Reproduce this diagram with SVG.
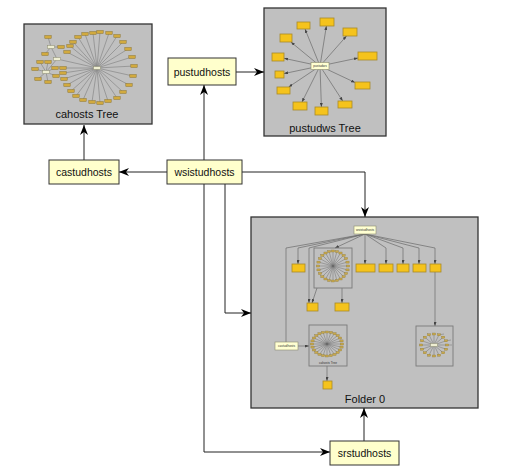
<svg xmlns="http://www.w3.org/2000/svg" xmlns:xlink="http://www.w3.org/1999/xlink" width="506" height="474" viewBox="0 0 506 474">
<style>
.bg{fill:#ffffff}
.box{fill:#ffffcc;stroke:#333333;stroke-width:1}
.cont{fill:#c0c0c0;stroke:#333333;stroke-width:1.3}
.inner{fill:none;stroke:#7a7a7a;stroke-width:0.9}
.lbl{font-family:"Liberation Sans",Arial,sans-serif;font-size:10.5px;fill:#111111;text-anchor:middle}
.tl{font-family:"Liberation Sans",Arial,sans-serif;font-size:11px;fill:#111111;text-anchor:middle}
.tiny{font-family:"Liberation Sans",Arial,sans-serif;font-size:3.2px;fill:#333333;text-anchor:middle}
.conn{fill:none;stroke:#222222;stroke-width:1}
.thin{fill:none;stroke:#6a6a6a;stroke-width:0.7}
.spoke{fill:none;stroke:#666666;stroke-width:0.45}
.gold{fill:#f5c31c;stroke:#a88a2a;stroke-width:0.8}
.pale{fill:#ffffd2;stroke:#8a8a70;stroke-width:0.6}
.tn{fill:#d2aa3e;stroke:#8c7636;stroke-width:0.5}
.sn{fill:#c8a84a;stroke:#8c7a40;stroke-width:0.35}
.th{fill:#eeeed2;stroke:#8a8a70;stroke-width:0.5}
</style>
<defs>
<marker id="arr" markerUnits="userSpaceOnUse" markerWidth="10" markerHeight="8" refX="10" refY="4" orient="auto">
<path d="M0,0 L10,4 L0,8 L3,4 Z" fill="#000000"/>
</marker>
<marker id="sm" markerUnits="userSpaceOnUse" markerWidth="4" markerHeight="3" refX="4" refY="1.5" orient="auto">
<path d="M0,0 L4,1.5 L0,3 Z" fill="#444444"/>
</marker>
<rect id="t" x="-3.2" y="-1.5" width="6.4" height="3" class="tn"/>
<rect id="s" x="-1.6" y="-1" width="3.2" height="2" class="sn"/>
<rect id="h" x="-3.5" y="-1.5" width="7" height="3" class="th"/>
</defs>
<rect class="bg" x="0" y="0" width="506" height="474"/>

<g id="cahosts-tree">
<rect class="cont" x="24" y="24" width="128" height="100"/>
<path class="spoke" d="M97 68 L73 42 M97 68 L78 37 M97 68 L85 34 M97 68 L93 33 M97 68 L100 32 M97 68 L109 33 M97 68 L117 36 M97 68 L123 42 M97 68 L128 49 M97 68 L132 57 M97 68 L134 66 M97 68 L133 76 M97 68 L129 85 M97 68 L123 92 M97 68 L117 98 M97 68 L108 101 M97 68 L100 103 M97 68 L92 102 M97 68 L83 100 M97 68 L76 96 M97 68 L71 91 M97 68 L67 85 M97 68 L64 79 M97 68 L63 73 M97 68 L63 68 M97 68 L67 52 M97 68 L70 46 M97 68 L57 59 M57 59 L51 47 M57 59 L46 72 M51 47 L48 37 M51 47 L61 47 M51 47 L45 54 M46 72 L40 62 M46 72 L48 62 M46 72 L35 69 M46 72 L55 68 M46 72 L38 79 M46 72 L48 82 M46 72 L56 76"/>
<use xlink:href="#t" x="73" y="42"/><use xlink:href="#t" x="78" y="37"/><use xlink:href="#t" x="85" y="34"/><use xlink:href="#t" x="93" y="33"/><use xlink:href="#t" x="100" y="32"/><use xlink:href="#t" x="109" y="33"/><use xlink:href="#t" x="117" y="36"/><use xlink:href="#t" x="123" y="42"/><use xlink:href="#t" x="128" y="49"/><use xlink:href="#t" x="132" y="57"/><use xlink:href="#t" x="134" y="66"/><use xlink:href="#t" x="133" y="76"/><use xlink:href="#t" x="129" y="85"/><use xlink:href="#t" x="123" y="92"/><use xlink:href="#t" x="117" y="98"/><use xlink:href="#t" x="108" y="101"/><use xlink:href="#t" x="100" y="103"/><use xlink:href="#t" x="92" y="102"/><use xlink:href="#t" x="83" y="100"/><use xlink:href="#t" x="76" y="96"/><use xlink:href="#t" x="71" y="91"/><use xlink:href="#t" x="67" y="85"/><use xlink:href="#t" x="64" y="79"/><use xlink:href="#t" x="63" y="73"/><use xlink:href="#t" x="63" y="68"/><use xlink:href="#t" x="67" y="52"/><use xlink:href="#t" x="70" y="46"/>
<use xlink:href="#t" x="48" y="37"/><use xlink:href="#t" x="61" y="47"/><use xlink:href="#t" x="45" y="54"/><use xlink:href="#t" x="40" y="62"/><use xlink:href="#t" x="48" y="62"/><use xlink:href="#t" x="35" y="69"/><use xlink:href="#t" x="55" y="68"/><use xlink:href="#t" x="38" y="79"/><use xlink:href="#t" x="48" y="82"/><use xlink:href="#t" x="56" y="76"/>
<use xlink:href="#h" x="97" y="68"/><use xlink:href="#h" x="57" y="59"/><use xlink:href="#h" x="51" y="47"/><use xlink:href="#h" x="46" y="72"/>
<text class="tl" x="87" y="118">cahosts Tree</text>
</g>

<g id="pustudws-tree">
<rect class="cont" x="264" y="8" width="122" height="128"/>
<path class="thin" marker-end="url(#sm)" d="M320 66 L305 29"/>
<path class="thin" marker-end="url(#sm)" d="M320 66 L326.4 26"/>
<path class="thin" marker-end="url(#sm)" d="M320 66 L346.5 36"/>
<path class="thin" marker-end="url(#sm)" d="M320 66 L358 58"/>
<path class="thin" marker-end="url(#sm)" d="M320 66 L355 82.5"/>
<path class="thin" marker-end="url(#sm)" d="M320 66 L342.7 101"/>
<path class="thin" marker-end="url(#sm)" d="M320 66 L321.4 107"/>
<path class="thin" marker-end="url(#sm)" d="M320 66 L302 102"/>
<path class="thin" marker-end="url(#sm)" d="M320 66 L288.7 87"/>
<path class="thin" marker-end="url(#sm)" d="M320 66 L284 73.6"/>
<path class="thin" marker-end="url(#sm)" d="M320 66 L284 58.3"/>
<path class="thin" marker-end="url(#sm)" d="M320 66 L290.9 42"/>
<rect class="gold" x="297" y="22" width="13" height="7"/>
<rect class="gold" x="320" y="18" width="14" height="8"/>
<rect class="gold" x="343" y="28" width="14" height="8"/>
<rect class="gold" x="358" y="52" width="19" height="8"/>
<rect class="gold" x="355" y="82" width="15" height="7"/>
<rect class="gold" x="338" y="101" width="14" height="7"/>
<rect class="gold" x="315" y="107" width="13" height="8"/>
<rect class="gold" x="293" y="102" width="14" height="8"/>
<rect class="gold" x="277" y="87" width="13" height="7"/>
<rect class="gold" x="275" y="71" width="9" height="7"/>
<rect class="gold" x="272" y="53" width="12" height="8"/>
<rect class="gold" x="280" y="34" width="12" height="8"/>
<rect class="pale" x="311" y="62.5" width="18" height="7"/>
<text class="tiny" x="320" y="67.2">pustudws</text>
<text class="tl" x="325" y="132">pustudws Tree</text>
</g>

<g id="folder-0">
<rect class="cont" x="251" y="217" width="227" height="191"/>
<path class="thin" d="M365 234 L286 248 V342"/>
<path class="thin" marker-end="url(#sm)" d="M365 234 L298 248 V264"/>
<path class="thin" marker-end="url(#sm)" d="M365 234 L309 248 V303"/>
<path class="thin" marker-end="url(#sm)" d="M365 234 L335 248"/>
<path class="thin" marker-end="url(#sm)" d="M365 234 V264"/>
<path class="thin" marker-end="url(#sm)" d="M365 234 L386 248 V264"/>
<path class="thin" marker-end="url(#sm)" d="M365 234 L403 248 V264"/>
<path class="thin" marker-end="url(#sm)" d="M365 234 L419 248 V264"/>
<path class="thin" marker-end="url(#sm)" d="M365 234 L435 248 V264"/>
<path class="thin" marker-end="url(#sm)" d="M435 272 V326"/>
<path class="thin" marker-end="url(#sm)" d="M317 288 L312 303"/>
<path class="thin" marker-end="url(#sm)" d="M342 288 V303"/>
<path class="thin" marker-end="url(#sm)" d="M298 346 H309"/>
<path class="thin" marker-end="url(#sm)" d="M327 366 V381"/>

<rect class="pale" x="354" y="226" width="22" height="8"/>
<text class="tiny" x="365" y="231.2">wsistudhosts</text>
<rect class="gold" x="292" y="264" width="13" height="8"/>
<rect class="gold" x="356" y="264" width="19" height="8"/>
<rect class="gold" x="379" y="264" width="14" height="8"/>
<rect class="gold" x="397" y="264" width="12" height="8"/>
<rect class="gold" x="413" y="264" width="13" height="8"/>
<rect class="gold" x="430" y="264" width="11" height="8"/>
<rect class="gold" x="307" y="303" width="11" height="8"/>
<rect class="gold" x="335" y="303" width="14" height="8"/>
<rect class="gold" x="323" y="381" width="9" height="8"/>
<rect class="pale" x="275" y="342" width="23" height="8"/>
<text class="tiny" x="286.5" y="347.2">castudhosts</text>

<rect class="inner" x="314" y="248" width="38" height="40"/>
<path class="spoke" d="M333 266 L348 266 M333 266 L347.5 269.9 M333 266 L346 273.5 M333 266 L343.6 276.6 M333 266 L340.5 279 M333 266 L336.9 280.5 M333 266 L333 281 M333 266 L329.1 280.5 M333 266 L325.5 279 M333 266 L322.4 276.6 M333 266 L320 273.5 M333 266 L318.5 269.9 M333 266 L318 266 M333 266 L318.5 262.1 M333 266 L320 258.5 M333 266 L322.4 255.4 M333 266 L325.5 253 M333 266 L329.1 251.5 M333 266 L333 251 M333 266 L336.9 251.5 M333 266 L340.5 253 M333 266 L343.6 255.4 M333 266 L346 258.5 M333 266 L347.5 262.1"/>
<use xlink:href="#s" x="348" y="266"/><use xlink:href="#s" x="347.5" y="269.9"/><use xlink:href="#s" x="346" y="273.5"/><use xlink:href="#s" x="343.6" y="276.6"/><use xlink:href="#s" x="340.5" y="279"/><use xlink:href="#s" x="336.9" y="280.5"/><use xlink:href="#s" x="333" y="281"/><use xlink:href="#s" x="329.1" y="280.5"/><use xlink:href="#s" x="325.5" y="279"/><use xlink:href="#s" x="322.4" y="276.6"/><use xlink:href="#s" x="320" y="273.5"/><use xlink:href="#s" x="318.5" y="269.9"/><use xlink:href="#s" x="318" y="266"/><use xlink:href="#s" x="318.5" y="262.1"/><use xlink:href="#s" x="320" y="258.5"/><use xlink:href="#s" x="322.4" y="255.4"/><use xlink:href="#s" x="325.5" y="253"/><use xlink:href="#s" x="329.1" y="251.5"/><use xlink:href="#s" x="333" y="251"/><use xlink:href="#s" x="336.9" y="251.5"/><use xlink:href="#s" x="340.5" y="253"/><use xlink:href="#s" x="343.6" y="255.4"/><use xlink:href="#s" x="346" y="258.5"/><use xlink:href="#s" x="347.5" y="262.1"/>

<rect class="inner" x="309" y="325" width="38" height="41"/>
<path class="spoke" d="M327 344 L342 344 M327 344 L341.5 347.1 M327 344 L340 350 M327 344 L337.6 352.5 M327 344 L334.5 354.4 M327 344 L330.9 355.6 M327 344 L327 356 M327 344 L323.1 355.6 M327 344 L319.5 354.4 M327 344 L316.4 352.5 M327 344 L314 350 M327 344 L312.5 347.1 M327 344 L312 344 M327 344 L312.5 340.9 M327 344 L314 338 M327 344 L316.4 335.5 M327 344 L319.5 333.6 M327 344 L323.1 332.4 M327 344 L327 332 M327 344 L330.9 332.4 M327 344 L334.5 333.6 M327 344 L337.6 335.5 M327 344 L340 338 M327 344 L341.5 340.9"/>
<use xlink:href="#s" x="342" y="344"/><use xlink:href="#s" x="341.5" y="347.1"/><use xlink:href="#s" x="340" y="350"/><use xlink:href="#s" x="337.6" y="352.5"/><use xlink:href="#s" x="334.5" y="354.4"/><use xlink:href="#s" x="330.9" y="355.6"/><use xlink:href="#s" x="327" y="356"/><use xlink:href="#s" x="323.1" y="355.6"/><use xlink:href="#s" x="319.5" y="354.4"/><use xlink:href="#s" x="316.4" y="352.5"/><use xlink:href="#s" x="314" y="350"/><use xlink:href="#s" x="312.5" y="347.1"/><use xlink:href="#s" x="312" y="344"/><use xlink:href="#s" x="312.5" y="340.9"/><use xlink:href="#s" x="314" y="338"/><use xlink:href="#s" x="316.4" y="335.5"/><use xlink:href="#s" x="319.5" y="333.6"/><use xlink:href="#s" x="323.1" y="332.4"/><use xlink:href="#s" x="327" y="332"/><use xlink:href="#s" x="330.9" y="332.4"/><use xlink:href="#s" x="334.5" y="333.6"/><use xlink:href="#s" x="337.6" y="335.5"/><use xlink:href="#s" x="340" y="338"/><use xlink:href="#s" x="341.5" y="340.9"/>
<text class="tiny" x="328" y="364">cahosts Tree</text>

<rect class="inner" x="416" y="326" width="37" height="40"/>
<path class="spoke" d="M434 345 L447 345 M434 345 L446 349.2 M434 345 L443.2 352.8 M434 345 L439 355.2 M434 345 L434 356 M434 345 L429 355.2 M434 345 L424.8 352.8 M434 345 L422 349.2 M434 345 L421 345 M434 345 L422 340.8 M434 345 L424.8 337.2 M434 345 L429 334.8 M434 345 L434 334 M434 345 L439 334.8 M434 345 L443.2 337.2 M434 345 L446 340.8 M447 345 L452 345 M446 340.8 L451 340 M439 334.8 L444 334"/>
<use xlink:href="#s" x="447" y="345"/><use xlink:href="#s" x="446" y="349.2"/><use xlink:href="#s" x="443.2" y="352.8"/><use xlink:href="#s" x="439" y="355.2"/><use xlink:href="#s" x="434" y="356"/><use xlink:href="#s" x="429" y="355.2"/><use xlink:href="#s" x="424.8" y="352.8"/><use xlink:href="#s" x="422" y="349.2"/><use xlink:href="#s" x="421" y="345"/><use xlink:href="#s" x="422" y="340.8"/><use xlink:href="#s" x="424.8" y="337.2"/><use xlink:href="#s" x="429" y="334.8"/><use xlink:href="#s" x="434" y="334"/><use xlink:href="#s" x="439" y="334.8"/><use xlink:href="#s" x="443.2" y="337.2"/><use xlink:href="#s" x="446" y="340.8"/>
<use xlink:href="#h" x="434" y="345"/>
<text class="tl" x="365" y="403">Folder 0</text>
</g>

<g id="connectors">
<path class="conn" marker-end="url(#arr)" d="M84 160 V125"/>
<path class="conn" marker-end="url(#arr)" d="M167 172 H119"/>
<path class="conn" marker-end="url(#arr)" d="M204 160 V85"/>
<path class="conn" marker-end="url(#arr)" d="M236 72 H264"/>
<path class="conn" marker-end="url(#arr)" d="M242 172 H365 V217"/>
<path class="conn" marker-end="url(#arr)" d="M225 184 V313 H251"/>
<path class="conn" marker-end="url(#arr)" d="M204 184 V452 H330"/>
<path class="conn" marker-end="url(#arr)" d="M364 441 V408"/>
</g>

<g id="castudhosts">
<rect class="box" x="49" y="160" width="70" height="24"/>
<text class="lbl" x="84" y="176">castudhosts</text>
</g>
<g id="wsistudhosts">
<rect class="box" x="167" y="160" width="75" height="24"/>
<text class="lbl" x="204.5" y="176">wsistudhosts</text>
</g>
<g id="pustudhosts">
<rect class="box" x="168" y="58" width="68" height="27"/>
<text class="lbl" x="202" y="75.5">pustudhosts</text>
</g>
<g id="srstudhosts">
<rect class="box" x="330" y="441" width="69" height="24"/>
<text class="lbl" x="364.5" y="457">srstudhosts</text>
</g>
</svg>
